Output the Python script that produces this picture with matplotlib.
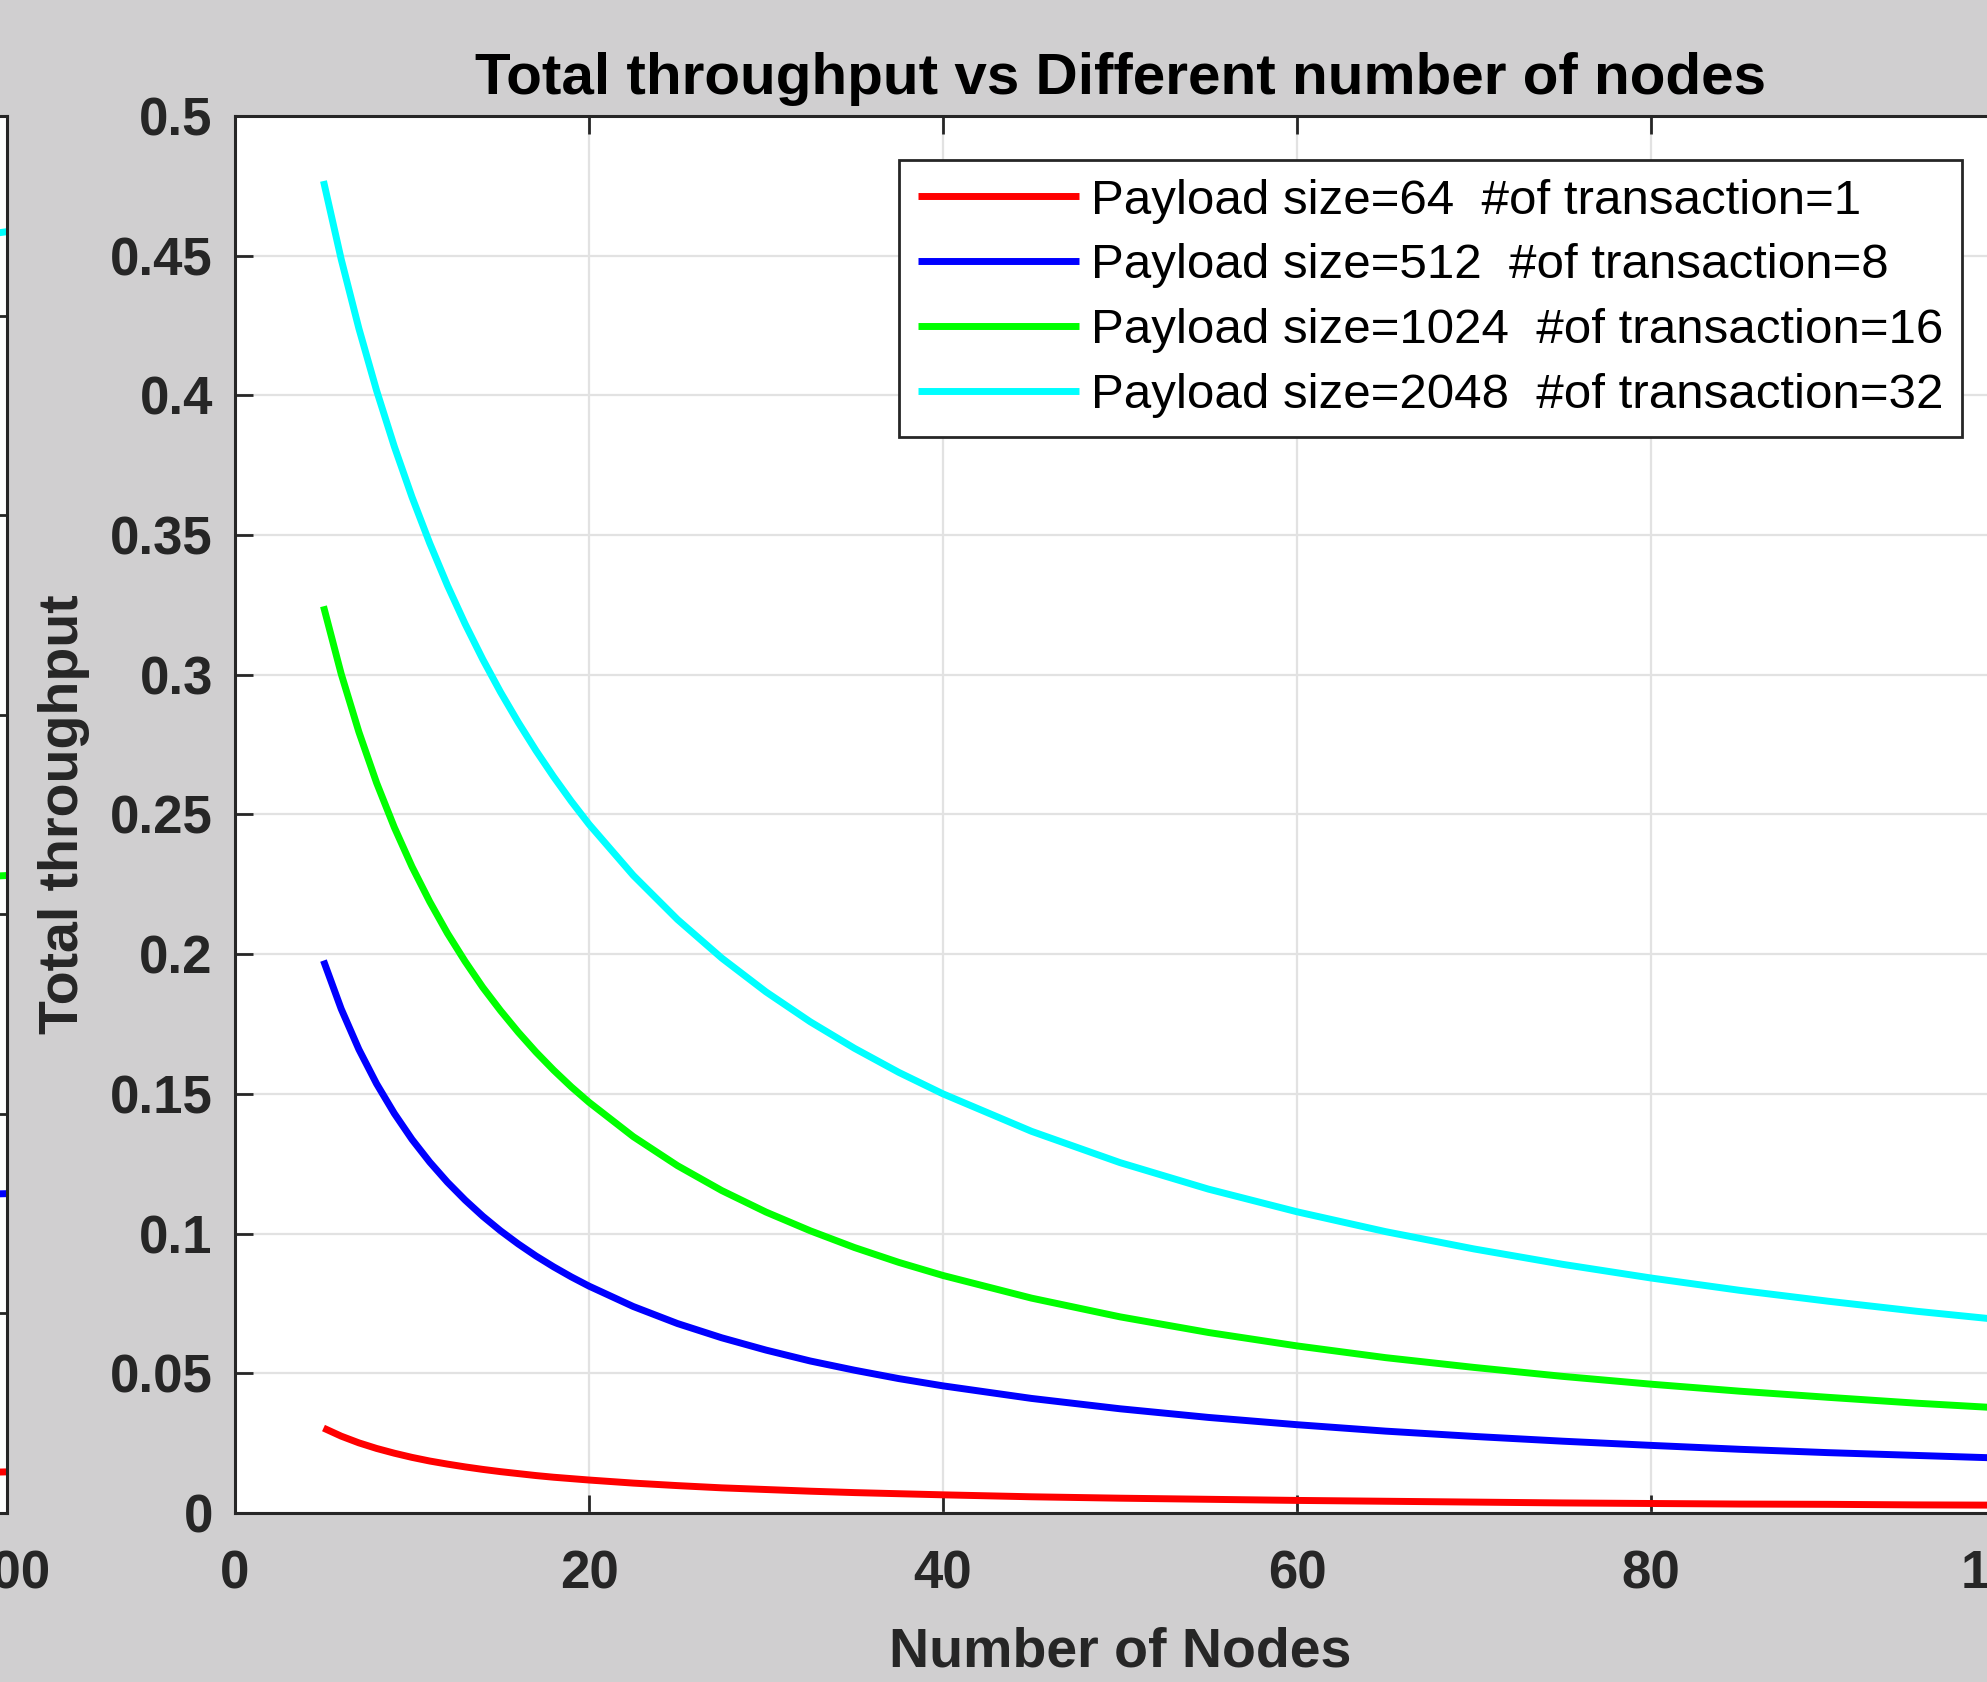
import numpy as np
import matplotlib
matplotlib.use("Agg")
import matplotlib.pyplot as plt

plt.rcParams['font.family'] = ['Liberation Sans', 'DejaVu Sans']

# values
nodes = [5, 6, 7, 8, 9, 10, 11, 12, 13, 14, 15, 16, 17, 18, 19, 20,
         22.5, 25, 27.5, 30, 32.5, 35, 37.5,
         40, 45, 50, 55, 60, 65, 70, 75, 80, 85, 90, 95, 100]
thr_64 = [0.0304, 0.0275, 0.0251, 0.0231, 0.0214, 0.0199, 0.0186, 0.0175, 0.0165, 0.0156, 0.0148,
          0.0141, 0.0134, 0.0128, 0.0123, 0.0118,
          0.0107, 0.0098, 0.0090, 0.0084, 0.0078, 0.0073, 0.0069,
          0.0065, 0.0058, 0.0053, 0.0049, 0.0045, 0.0042, 0.0039, 0.0036, 0.0034, 0.0032, 0.0031,
          0.0029, 0.0028]
thr_512 = [0.1977, 0.1804, 0.1659, 0.1536, 0.1430, 0.1337, 0.1256, 0.1184, 0.1120, 0.1062, 0.1010,
           0.0963, 0.0920, 0.0881, 0.0845, 0.0812,
           0.0739, 0.0678, 0.0627, 0.0583, 0.0544, 0.0511, 0.0481,
           0.0455, 0.0410, 0.0373, 0.0342, 0.0316, 0.0293, 0.0274, 0.0257, 0.0242, 0.0228, 0.0216,
           0.0206, 0.0196]
thr_1024 = [0.3245, 0.3003, 0.2795, 0.2613, 0.2454, 0.2313, 0.2188, 0.2075, 0.1974, 0.1881, 0.1798,
            0.1721, 0.1650, 0.1585, 0.1525, 0.1470,
            0.1347, 0.1243, 0.1154, 0.1077, 0.1010, 0.0950, 0.0897,
            0.0850, 0.0769, 0.0702, 0.0646, 0.0598, 0.0556, 0.0521, 0.0489, 0.0461, 0.0436, 0.0414,
            0.0393, 0.0375]
thr_2048 = [0.4767, 0.4487, 0.4239, 0.4017, 0.3817, 0.3636, 0.3471, 0.3320, 0.3182, 0.3055, 0.2938,
            0.2830, 0.2729, 0.2635, 0.2547, 0.2465,
            0.2282, 0.2124, 0.1986, 0.1865, 0.1758, 0.1663, 0.1577,
            0.1500, 0.1366, 0.1254, 0.1159, 0.1078, 0.1007, 0.0945, 0.0890, 0.0841, 0.0797, 0.0758,
            0.0722, 0.0690]

labels = ['Payload size=64  #of transaction=1',
          'Payload size=512  #of transaction=8',
          'Payload size=1024  #of transaction=16',
          'Payload size=2048  #of transaction=32']
colors = ['#ff0000', '#0000ff', '#00ff00', '#00ffff']

# neighbouring subplot, only its right edge is visible
left_x = [98, 100]
left_64 = [0.0101, 0.0103]
left_512 = [0.0798, 0.0800]
left_1024 = [0.1593, 0.1597]
left_2048 = [0.3198, 0.3210]

fig_bg = '#d0cfd0'
dark = '#262626'

fig = plt.figure(figsize=(19.87, 16.82), dpi=100, facecolor=fig_bg)

# left (cropped) axes
ax0 = fig.add_axes([-0.8873, 0.10048, 0.8908, 0.8306])
for y, c in zip([left_64, left_512, left_1024, left_2048], colors):
    ax0.plot(left_x, y, color=c, linewidth=5, solid_capstyle='butt')
ax0.set_xlim(0, 100)
ax0.set_ylim(0, 0.35)
ax0.set_xticks([0, 20, 40, 60, 80, 100])
ax0.set_xticklabels(['', '', '', '', '', '100'])
ax0.set_yticks(np.arange(0, 0.36, 0.05))
ax0.tick_params(direction='in', length=13, width=2, top=True, right=True,
                labelleft=False, labelsize=38, pad=26, colors=dark)
for lab in ax0.get_xticklabels():
    lab.set_fontweight('bold')
for s in ax0.spines.values():
    s.set_color(dark)
    s.set_linewidth(2.2)

# main axes
ax = fig.add_axes([0.11827, 0.10048, 0.8908, 0.8306])
ax.set_facecolor('white')
for y, c, lab in zip([thr_64, thr_512, thr_1024, thr_2048], colors, labels):
    ax.plot(nodes, y, color=c, linewidth=5, label=lab, solid_capstyle='butt')

ax.set_xlim(0, 100)
ax.set_ylim(0, 0.5)
ax.set_xticks([0, 20, 40, 60, 80, 100])
ax.set_yticks([0, 0.05, 0.1, 0.15, 0.2, 0.25, 0.3, 0.35, 0.4, 0.45, 0.5])
ax.set_yticklabels(['0', '0.05', '0.1', '0.15', '0.2', '0.25', '0.3', '0.35', '0.4', '0.45', '0.5'])
ax.grid(True, color='#e2e2e2', linewidth=1.6)
ax.set_axisbelow(True)
ax.tick_params(direction='in', length=13, width=2, top=True, right=True,
               labelsize=38, colors=dark)
ax.tick_params(axis='x', pad=26)
ax.tick_params(axis='y', pad=16)
for lab in ax.get_xticklabels() + ax.get_yticklabels():
    lab.set_fontweight('bold')
for s in ax.spines.values():
    s.set_color(dark)
    s.set_linewidth(2.2)

ax.set_title('Total throughput vs Different number of nodes', fontsize=42,
             fontweight='bold', color='black', pad=16)
ax.set_xlabel('Number of Nodes', fontsize=40, fontweight='bold', color=dark, labelpad=20)
ax.set_ylabel('Total throughput', fontsize=40, fontweight='bold', color=dark, labelpad=14)

leg = ax.legend(loc='upper right', bbox_to_anchor=(0.9757, 0.9685), fontsize=35.5,
                frameon=True, fancybox=False, edgecolor=dark, framealpha=1,
                handlelength=3.27, handletextpad=0.23, labelspacing=0.4,
                borderpad=0.38, borderaxespad=0)
leg.get_frame().set_linewidth(2)

fig.savefig('out.png', dpi=100, facecolor=fig_bg)
